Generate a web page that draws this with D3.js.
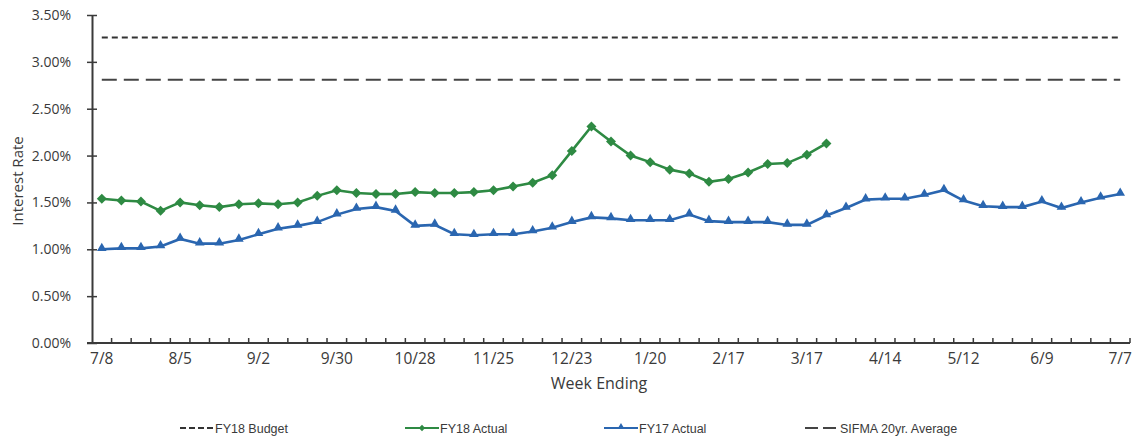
<!DOCTYPE html>
<html>
<head>
<meta charset="utf-8">
<script src="https://cdn.jsdelivr.net/npm/d3@7"></script>
<style>
  html, body { margin: 0; padding: 0; background: #fff; }
  svg { display: block; }
</style>
</head>
<body>
<svg id="chart" width="1137" height="438"></svg>
<script>
// ---- data ----
const weeks = ["7/8","7/15","7/22","7/29","8/5","8/12","8/19","8/26","9/2","9/9","9/16","9/23","9/30",
  "10/7","10/14","10/21","10/28","11/4","11/11","11/18","11/25","12/2","12/9","12/16","12/23","12/30",
  "1/6","1/13","1/20","1/27","2/3","2/10","2/17","2/24","3/3","3/10","3/17","3/24","3/31","4/7","4/14",
  "4/21","4/28","5/5","5/12","5/19","5/26","6/2","6/9","6/16","6/23","6/30","7/7"];
const tickLabels = ["7/8","8/5","9/2","9/30","10/28","11/25","12/23","1/20","2/17","3/17","4/14","5/12","6/9","7/7"];
const yTicks = [0, 0.5, 1.0, 1.5, 2.0, 2.5, 3.0, 3.5];
const fy18Budget = 3.26;
const sifmaAverage = 2.81;
const fy18Actual = [1.54,1.52,1.51,1.41,1.50,1.47,1.45,1.48,1.49,1.48,1.50,1.57,1.63,1.60,1.59,1.59,1.61,1.60,1.60,1.61,
  1.63,1.67,1.71,1.79,2.05,2.31,2.15,2.00,1.93,1.85,1.81,1.72,1.75,1.82,1.91,1.92,2.01,2.13];
const fy17Actual = [1.00,1.01,1.01,1.03,1.11,1.06,1.06,1.10,1.16,1.22,1.25,1.29,1.37,1.43,1.45,1.41,1.25,1.26,1.16,1.15,
  1.16,1.16,1.19,1.23,1.29,1.34,1.33,1.31,1.31,1.31,1.37,1.30,1.29,1.29,1.29,1.26,1.26,1.36,1.44,1.53,
  1.54,1.54,1.58,1.63,1.52,1.46,1.45,1.45,1.51,1.44,1.50,1.55,1.59];
const legendNames = ["FY18 Budget","FY18 Actual","FY17 Actual","SIFMA 20yr. Average"];

// ---- styles ----
const GREEN = "#2e8a43";
const BLUE = "#2a66b0";
const DARK = "#333333";
const AXIS = "#3a3a3a";
const TEXT = "#3a3a3a";
const FONT = "'Open Sans', 'Liberation Sans', sans-serif";
const LFONT = "'Liberation Sans Narrow', 'Liberation Sans', sans-serif";

const svg = d3.select("#chart");
const plotLeft = 92, plotRight = 1130, plotTop = 15, plotBottom = 343;

const x = d3.scaleBand().domain(weeks).range([plotLeft, plotRight]).padding(0);
const cx = d => x(d) + x.bandwidth() / 2;
const y = d3.scaleLinear().domain([0, 3.5]).range([plotBottom, plotTop]);

// ---- y axis ----
const gy = svg.append("g").attr("transform", `translate(${plotLeft},0)`);
gy.call(d3.axisLeft(y).tickValues(yTicks).tickFormat(d => d.toFixed(2) + "%").tickSizeInner(5).tickSizeOuter(0).tickPadding(16));
gy.select(".domain").attr("stroke", AXIS).attr("stroke-width", 2);
gy.selectAll(".tick line").attr("stroke", AXIS).attr("stroke-width", 1.5).attr("x1", -5).attr("x2", 5);
gy.selectAll(".tick text").attr("font-family", FONT).attr("font-size", 14).attr("fill", TEXT);

// ---- x axis ----
const gx = svg.append("g").attr("transform", `translate(0,${plotBottom})`);
gx.append("line").attr("x1", plotLeft - 5).attr("x2", plotRight).attr("stroke", AXIS).attr("stroke-width", 2);
gx.selectAll("line.wk").data(weeks)
  .enter().append("line").attr("class", "wk")
  .attr("x1", d => x(d) + x.bandwidth())
  .attr("x2", d => x(d) + x.bandwidth())
  .attr("y1", -5).attr("y2", 0)
  .attr("stroke", AXIS).attr("stroke-width", 1.5);
gx.selectAll("text.lbl").data(tickLabels).enter().append("text")
  .attr("class", "lbl")
  .attr("x", d => cx(d)).attr("y", 21)
  .attr("text-anchor", "middle")
  .attr("font-family", FONT).attr("font-size", 15.5).attr("fill", TEXT)
  .text(d => d);

// axis titles
svg.append("text").attr("x", 599).attr("y", 389).attr("text-anchor", "middle")
  .attr("font-family", FONT).attr("font-size", 16).attr("fill", TEXT).text("Week Ending");
svg.append("text").attr("transform", "translate(23,181) rotate(-90)").attr("text-anchor", "middle")
  .attr("font-family", FONT).attr("font-size", 15).attr("fill", TEXT).text("Interest Rate");

// ---- reference lines ----
const refLine = v => d3.line().x(d => cx(d)).y(() => y(v));
svg.append("path").datum(weeks).attr("d", refLine(fy18Budget))
  .attr("fill", "none").attr("stroke", DARK).attr("stroke-width", 2).attr("stroke-dasharray", "6,4");
svg.append("path").datum(weeks).attr("d", refLine(sifmaAverage))
  .attr("fill", "none").attr("stroke", "#444").attr("stroke-width", 2).attr("stroke-dasharray", "15,7");

// ---- series ----
const line = d3.line().x((d, i) => cx(weeks[i])).y(d => y(d));
svg.append("path").datum(fy17Actual).attr("d", line)
  .attr("fill", "none").attr("stroke", BLUE).attr("stroke-width", 2.6);
svg.selectAll("path.tri").data(fy17Actual).enter().append("path").attr("class", "tri")
  .attr("d", d3.symbol().type(d3.symbolTriangle).size(40))
  .attr("transform", (d, i) => `translate(${cx(weeks[i])},${y(d) - 1})`)
  .attr("fill", BLUE);

svg.append("path").datum(fy18Actual).attr("d", line)
  .attr("fill", "none").attr("stroke", GREEN).attr("stroke-width", 2.6);
svg.selectAll("path.dia").data(fy18Actual).enter().append("path").attr("class", "dia")
  .attr("d", d3.symbol().type(d3.symbolSquare).size(50))
  .attr("transform", (d, i) => `translate(${cx(weeks[i])},${y(d)}) rotate(45)`)
  .attr("fill", GREEN);

// ---- legend ----
const ly = 428;
const legend = [
  {name: legendNames[0], x0: 180, color: DARK, dash: "6,3", marker: null},
  {name: legendNames[1], x0: 405, color: GREEN, dash: null, marker: "dia"},
  {name: legendNames[2], x0: 604, color: BLUE, dash: null, marker: "tri"},
  {name: legendNames[3], x0: 805, color: "#444", dash: "13,5", marker: null}
];
const lg = svg.append("g");
legend.forEach(it => {
  lg.append("line").attr("x1", it.x0).attr("x2", it.x0 + 34).attr("y1", ly).attr("y2", ly)
    .attr("stroke", it.color).attr("stroke-width", 2).attr("stroke-dasharray", it.dash);
  if (it.marker === "dia") {
    lg.append("path").attr("d", d3.symbol().type(d3.symbolSquare).size(20))
      .attr("transform", `translate(${it.x0 + 17},${ly}) rotate(45)`).attr("fill", it.color);
  } else if (it.marker === "tri") {
    lg.append("path").attr("d", d3.symbol().type(d3.symbolTriangle).size(22))
      .attr("transform", `translate(${it.x0 + 17},${ly - 1})`).attr("fill", it.color);
  }
  lg.append("text").attr("x", it.x0 + 35).attr("y", ly + 4.5)
    .attr("font-family", LFONT).attr("font-size", 12.5).attr("fill", TEXT).text(it.name);
});
</script>
</body>
</html>
